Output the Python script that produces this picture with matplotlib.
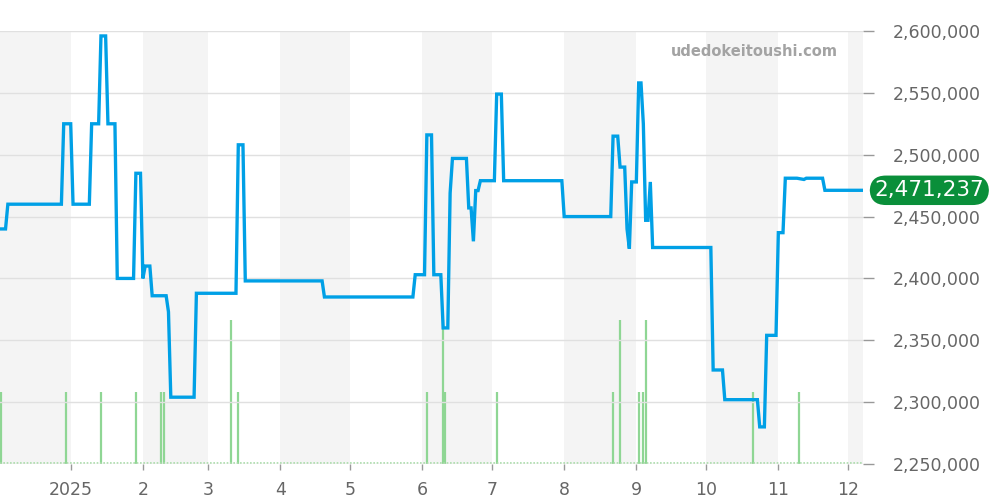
import matplotlib
matplotlib.use("Agg")
import matplotlib.pyplot as plt
import numpy as np
import pandas as pd

# price history
price_dates = [
    "2024-12-01", "2024-12-04", "2024-12-05", "2024-12-28", "2024-12-29",
    "2025-01-01", "2025-01-02", "2025-01-09", "2025-01-10", "2025-01-13",
    "2025-01-14", "2025-01-16", "2025-01-17", "2025-01-20", "2025-01-21",
    "2025-01-28", "2025-01-29", "2025-01-31", "2025-02-01", "2025-02-02",
    "2025-02-04", "2025-02-05", "2025-02-11", "2025-02-12", "2025-02-13",
    "2025-02-23", "2025-02-24", "2025-03-13", "2025-03-14", "2025-03-16",
    "2025-03-17", "2025-04-19", "2025-04-20", "2025-05-28", "2025-05-29",
    "2025-06-02", "2025-06-03", "2025-06-05", "2025-06-06", "2025-06-09",
    "2025-06-10", "2025-06-12", "2025-06-13", "2025-06-14", "2025-06-20",
    "2025-06-21", "2025-06-22", "2025-06-23", "2025-06-24", "2025-06-25",
    "2025-06-26", "2025-07-02", "2025-07-03", "2025-07-05", "2025-07-06",
    "2025-07-31", "2025-08-01", "2025-08-21", "2025-08-22", "2025-08-24",
    "2025-08-25", "2025-08-27", "2025-08-28", "2025-08-29", "2025-08-30",
    "2025-09-01", "2025-09-02", "2025-09-03", "2025-09-04", "2025-09-05",
    "2025-09-06", "2025-09-07", "2025-09-08", "2025-10-03", "2025-10-04",
    "2025-10-08", "2025-10-09", "2025-10-23", "2025-10-24", "2025-10-26",
    "2025-10-27", "2025-10-31", "2025-11-01", "2025-11-03", "2025-11-04",
    "2025-11-09", "2025-11-12", "2025-11-13", "2025-11-20", "2025-11-21",
    "2025-12-07",
]
price_values = [
    2440000, 2440000, 2460000, 2460000, 2525000,
    2525000, 2460000, 2460000, 2525000, 2525000,
    2596000, 2596000, 2525000, 2525000, 2400000,
    2400000, 2485000, 2485000, 2400000, 2410000,
    2410000, 2386000, 2386000, 2373000, 2304000,
    2304000, 2388000, 2388000, 2508000, 2508000,
    2398000, 2398000, 2385000, 2385000, 2403000,
    2403000, 2516000, 2516000, 2403000, 2403000,
    2360000, 2360000, 2469000, 2497000, 2497000,
    2457000, 2457000, 2430000, 2471000, 2471000,
    2479000, 2479000, 2549000, 2549000, 2479000,
    2479000, 2450000, 2450000, 2515000, 2515000,
    2490000, 2490000, 2440000, 2424000, 2478000,
    2478000, 2558000, 2558000, 2525000, 2447000,
    2447000, 2478000, 2425000, 2425000, 2326000,
    2326000, 2302000, 2302000, 2280000, 2280000,
    2354000, 2354000, 2437000, 2437000, 2481000,
    2481000, 2480000, 2481000, 2481000, 2471237,
    2471237,
]

# number of sales per day
volume_dates = [
    "2024-12-02", "2024-12-30", "2025-01-14", "2025-01-29", "2025-02-09",
    "2025-02-10", "2025-03-11", "2025-03-14", "2025-06-03", "2025-06-10",
    "2025-06-11", "2025-07-03", "2025-08-22", "2025-08-25", "2025-09-02",
    "2025-09-04", "2025-09-05", "2025-10-21", "2025-11-10",
]
volume_counts = [1, 1, 1, 1, 1, 1, 2, 1, 1, 2, 1, 1, 1, 2, 1, 1, 2, 1, 1]

last_price = 2471237
month_labels = ["2025", "2", "3", "4", "5", "6", "7", "8", "9", "10", "11", "12"]
y_ticks = [2250000, 2300000, 2350000, 2400000, 2450000, 2500000, 2550000, 2600000]

pd_price_dates = pd.to_datetime(price_dates)
pd_vol_dates = pd.to_datetime(volume_dates)
month_ticks = pd.date_range("2025-01-01", "2025-12-01", freq="MS")
x_start = pd.Timestamp("2024-12-01 15:00")
x_end = pd.Timestamp("2025-12-07 12:00")

fig = plt.figure(figsize=(10, 5), dpi=100)
rect = [0, 0.072, 0.8633, 0.866]

# bottom axes: month shading and volume bars
axv = fig.add_axes(rect)
band_starts = pd.date_range("2024-12-01", "2025-12-01", freq="2MS")
for b in band_starts:
    axv.axvspan(b, b + pd.offsets.MonthBegin(1), color="#f4f4f4", lw=0, zorder=0)
axv.vlines(pd_vol_dates, 0, volume_counts, color="#8fd694", lw=1.6, zorder=2)
axv.plot([x_start, x_end], [0.02, 0.02], color="#a8dca8", lw=1.2,
         linestyle=(0, (1, 1)), zorder=2)
axv.set_ylim(0, 6)
axv.set_xlim(x_start, x_end)
axv.set_yticks([])
for s in axv.spines.values():
    s.set_visible(False)
axv.set_xticks(month_ticks)
axv.set_xticklabels(month_labels)
axv.tick_params(axis="x", colors="#999999", labelcolor="#666666", labelsize=12.5,
                length=4, width=1, pad=8)

# top axes: price line
ax = axv.twinx()
ax.patch.set_visible(False)
ax.plot(pd_price_dates, price_values, color="#00a0e6", lw=2.4,
        solid_joinstyle="miter", zorder=3)
ax.set_ylim(2250000, 2600000)
ax.set_xlim(x_start, x_end)
ax.set_yticks(y_ticks)
ax.set_yticklabels([f"{v:,}" for v in y_ticks])
ax.yaxis.tick_right()
ax.tick_params(axis="y", colors="#999999", labelcolor="#666666", labelsize=12.5,
               length=8, width=1, pad=13)
ax.grid(axis="y", color="#e0e0e0", lw=1)
ax.set_axisbelow(True)
for s in ax.spines.values():
    s.set_visible(False)

# current price badge
ax.text(1.0765, last_price, f"{last_price:,}", transform=ax.get_yaxis_transform(),
        ha="center", va="center", color="white", fontsize=15.5, clip_on=False,
        bbox=dict(boxstyle="round,pad=0.22,rounding_size=0.75", fc="#0a8f3a", ec="none"))

# watermark
ax.text(0.874, 0.953, "udedokeitoushi.com", transform=ax.transAxes, ha="center",
        va="center", color="#a3a3a3", fontsize=10.5, fontweight="bold")

fig.savefig("out.png", dpi=100)
